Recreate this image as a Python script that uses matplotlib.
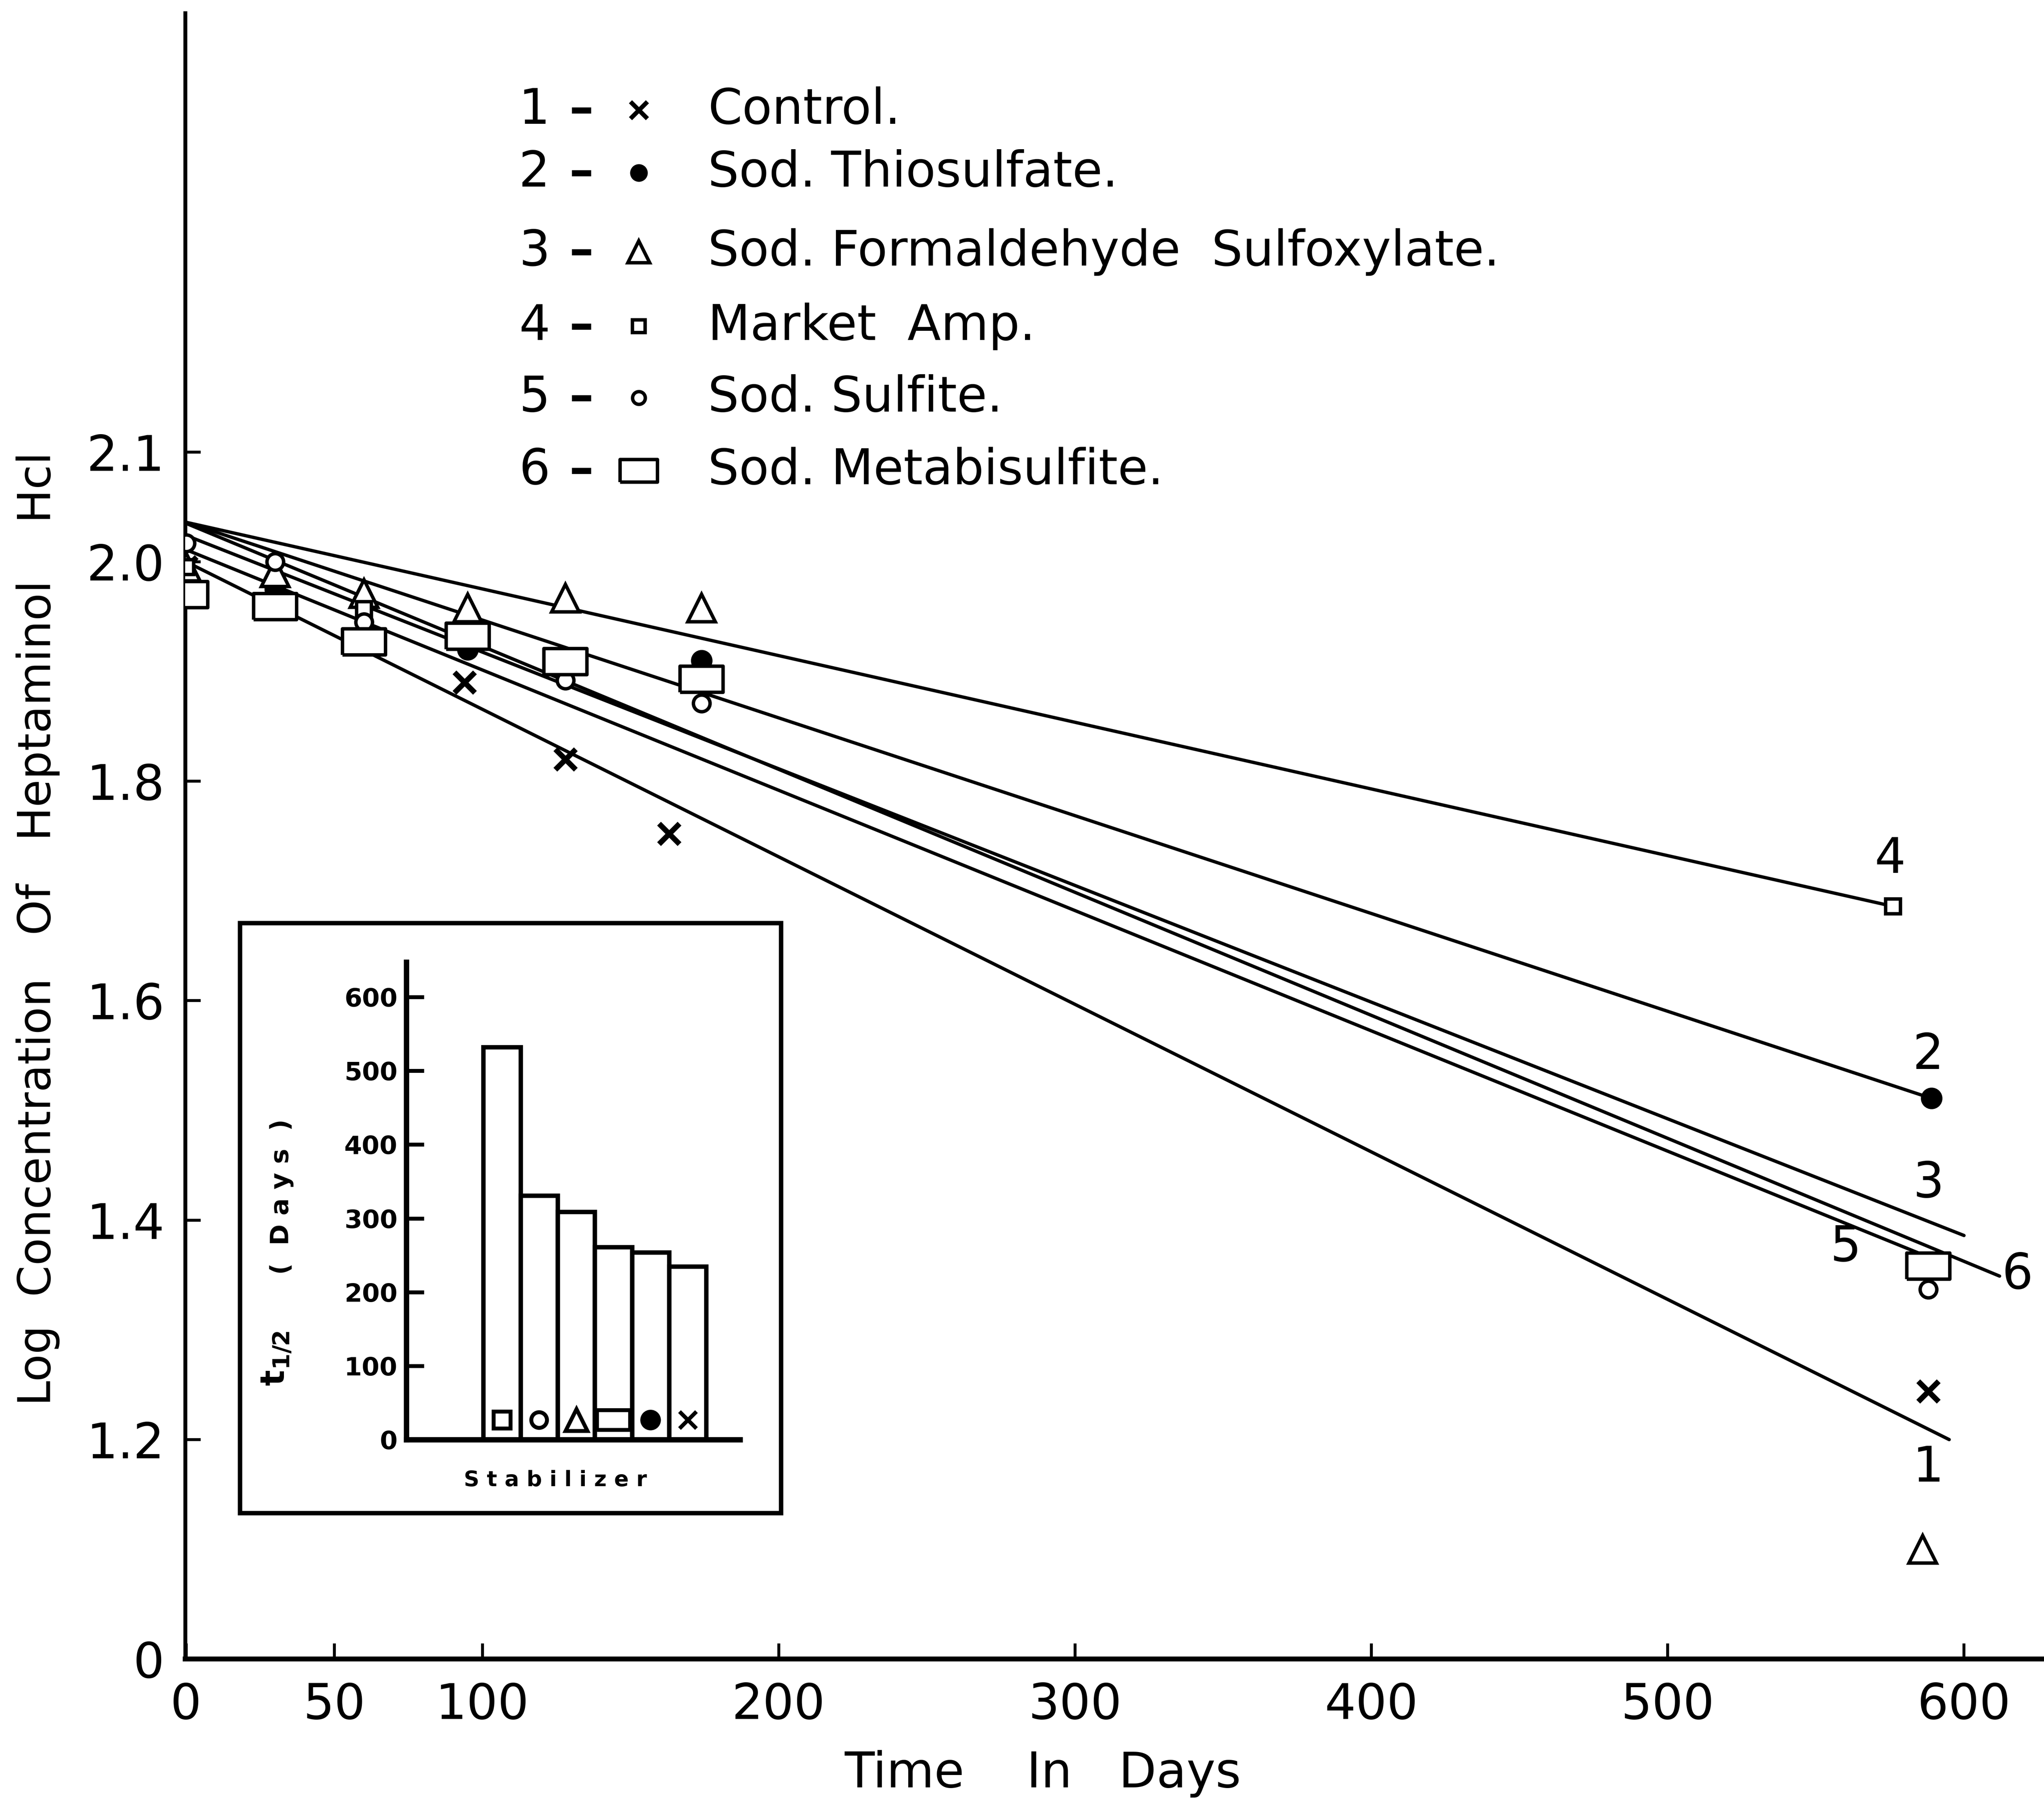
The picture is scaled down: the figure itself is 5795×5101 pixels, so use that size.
import matplotlib
matplotlib.use("Agg")
import matplotlib.pyplot as plt
from matplotlib.lines import Line2D
from matplotlib.patches import Rectangle

# legend text, in series order 1..6
names = ["Control.", "Sod. Thiosulfate.", "Sod. Formaldehyde  Sulfoxylate.",
         "Market  Amp.", "Sod. Sulfite.", "Sod. Metabisulfite."]

# measured points (time in days, log concentration)
days_1 = [0, 94, 128, 163, 588]
logc_1 = [1.995, 1.89, 1.82, 1.752, 1.244]
days_2 = [0, 30, 60, 95, 128, 174, 589]
logc_2 = [1.970, 1.975, 1.932, 1.920, 1.907, 1.910, 1.511]
days_3 = [0, 30, 60, 95, 128, 174, 586]
logc_3 = [1.995, 1.990, 1.971, 1.958, 1.967, 1.958, 1.100]
days_4 = [0, 60, 576]
logc_4 = [1.995, 1.957, 1.686]
days_5 = [0, 30, 60, 95, 128, 174, 588]
logc_5 = [2.017, 2.000, 1.945, 1.930, 1.892, 1.871, 1.337]
days_6 = [0, 30, 60, 95, 128, 174, 588]
logc_6 = [1.970, 1.959, 1.927, 1.932, 1.909, 1.893, 1.358]

# fitted lines: value at day 0 and end point
fit_y0 = [2.000, 2.036, 2.024, 2.036, 2.011, 2.035]
fit_x1 = [595, 589, 600, 576, 592, 612]
fit_y1 = [1.200, 1.511, 1.386, 1.686, 1.362, 1.349]

# axis ticks
x_ticks = [0, 50, 100, 200, 300, 400, 500, 600]
y_ticks = [1.0, 1.2, 1.4, 1.6, 1.8, 2.0, 2.1]
y_ticklabels = ["0", "1.2", "1.4", "1.6", "1.8", "2.0", "2.1"]

# inset: half-life per stabilizer (series number, days)
inset_series = [4, 5, 3, 6, 2, 1]
half_life = [532, 331, 309, 261, 254, 235]
inset_ticks = [0, 100, 200, 300, 400, 500, 600]

days = [days_1, days_2, days_3, days_4, days_5, days_6]
logc = [logc_1, logc_2, logc_3, logc_4, logc_5, logc_6]

rect = [(-1, -0.6), (1, -0.6), (1, 0.6), (-1, 0.6), (-1, -0.6)]
# marker style per series: marker, size, filled, edge width
styles = {
    1: ("x", 21, True, 5.5),
    2: ("o", 20, True, 2),
    3: ("^", 28, False, 3.5),
    4: ("s", 15, False, 3.5),
    5: ("o", 17, False, 3.5),
    6: (rect, 44, False, 3.5),
}

fig = plt.figure(figsize=(5795 / 200, 5101 / 200), dpi=200)
ax = fig.add_axes([0.0906, 0.0778, 0.9094, 0.9149])

# fitted lines
for i in range(6):
    ax.plot([0, fit_x1[i]], [fit_y0[i], fit_y1[i]], color="black", lw=3.4,
            solid_capstyle="round", zorder=2)

# data points
for i in range(6):
    m, ms, filled, mew = styles[i + 1]
    ax.plot(days[i], logc[i], linestyle="none", marker=m, markersize=ms,
            markeredgewidth=mew, markeredgecolor="black",
            markerfacecolor="black" if filled else "white", zorder=3)

# curve numbers
line_label_pos = [(588, 1.174), (588, 1.550), (588, 1.433),
                  (575, 1.729), (560, 1.375), (618, 1.350)]
for i, (lx, ly) in enumerate(line_label_pos):
    ax.text(lx, ly, str(i + 1), fontsize=50, ha="center", va="center")

ax.set_xlim(-0.3, 627)
ax.set_ylim(1.0, 2.5)
ax.set_xticks(x_ticks)
ax.set_xticklabels([str(t) for t in x_ticks])
ax.set_yticks(y_ticks)
ax.set_yticklabels(y_ticklabels)
ax.tick_params(axis="both", direction="in", length=16, width=3, labelsize=50)
ax.tick_params(axis="x", pad=23)
ax.tick_params(axis="y", pad=21)
for s in ["top", "right"]:
    ax.spines[s].set_visible(False)
ax.spines["left"].set_linewidth(4)
ax.spines["bottom"].set_linewidth(5)

fig.text(800 / 1568, 0.0065, "Time    In   Days", fontsize=50,
         ha="center", va="baseline")
fig.text(29 / 1568, 0.4837, "Log  Concentration   Of   Heptaminol    Hcl",
         fontsize=46, rotation=90, ha="center", va="center")

# legend block
row_y = [0.9388, 0.9039, 0.8600, 0.8186, 0.7788, 0.7383]
legend_ms = {1: 17, 2: 16, 3: 22, 4: 13, 5: 13, 6: 38}
for i in range(6):
    y = row_y[i]
    fig.text(0.2615, y, str(i + 1), fontsize=50, ha="center", va="center")
    fig.text(0.2844, y, "\u2013", fontsize=50, ha="center", va="center",
             fontweight="bold")
    m, ms, filled, mew = styles[i + 1]
    fig.add_artist(Line2D([0.3125], [y], transform=fig.transFigure,
                          linestyle="none", marker=m, markersize=legend_ms[i + 1],
                          markeredgewidth=min(mew, 4.5), markeredgecolor="black",
                          markerfacecolor="black" if filled else "white"))
    fig.text(0.3463, y, names[i], fontsize=50, ha="left", va="center")

# inset box
fig.add_artist(Rectangle((0.11735, 0.15891), 0.26467, 0.32805,
                         transform=fig.transFigure, facecolor="white",
                         edgecolor="black", lw=4.5, zorder=2))

axin = fig.add_axes([311.8 / 1568, 1 - 1104.4 / 1380,
                     (567.6 - 311.8) / 1568, (1104.4 - 737.9) / 1380])
axin.set_zorder(3)
axin.patch.set_alpha(0)
pos = list(range(len(half_life)))
axin.bar(pos, half_life, width=1.0, facecolor="white", edgecolor="black", lw=4.5)
inset_ms = {1: 17, 2: 17, 3: 22, 4: 17, 5: 16, 6: 34}
for p, sn in zip(pos, inset_series):
    m, ms, filled, mew = styles[sn]
    axin.plot([p], [27], linestyle="none", marker=m, markersize=inset_ms[sn],
              markeredgewidth=4, markeredgecolor="black",
              markerfacecolor="black" if filled else "white")
axin.set_xlim(-2.568, 6.407)
axin.set_ylim(0, 647.5)
axin.set_xticks([])
axin.set_yticks(inset_ticks)
axin.set_yticklabels([str(t) for t in inset_ticks], fontweight="bold")
axin.tick_params(axis="y", direction="in", length=18, width=4, labelsize=26, pad=9)
for s in ["top", "right"]:
    axin.spines[s].set_visible(False)
axin.spines["left"].set_linewidth(5.5)
axin.spines["bottom"].set_linewidth(5.5)

fig.text(426 / 1568, 1 - 1135.6 / 1380, "S t a b i l i z e r", fontsize=22,
         fontweight="bold", ha="center", va="center", zorder=4)
fig.text(216 / 1568, 1 - 918 / 1380, "(  D a y s  )", fontsize=26,
         fontweight="bold", rotation=90, ha="center", va="center", zorder=4)
fig.text(212 / 1568, 1 - 1042 / 1380, r"t$_{\mathbf{1/2}}$", fontsize=34,
         fontweight="bold", rotation=90, ha="center", va="center", zorder=4)

fig.savefig("out.png", dpi=200, facecolor="white")
